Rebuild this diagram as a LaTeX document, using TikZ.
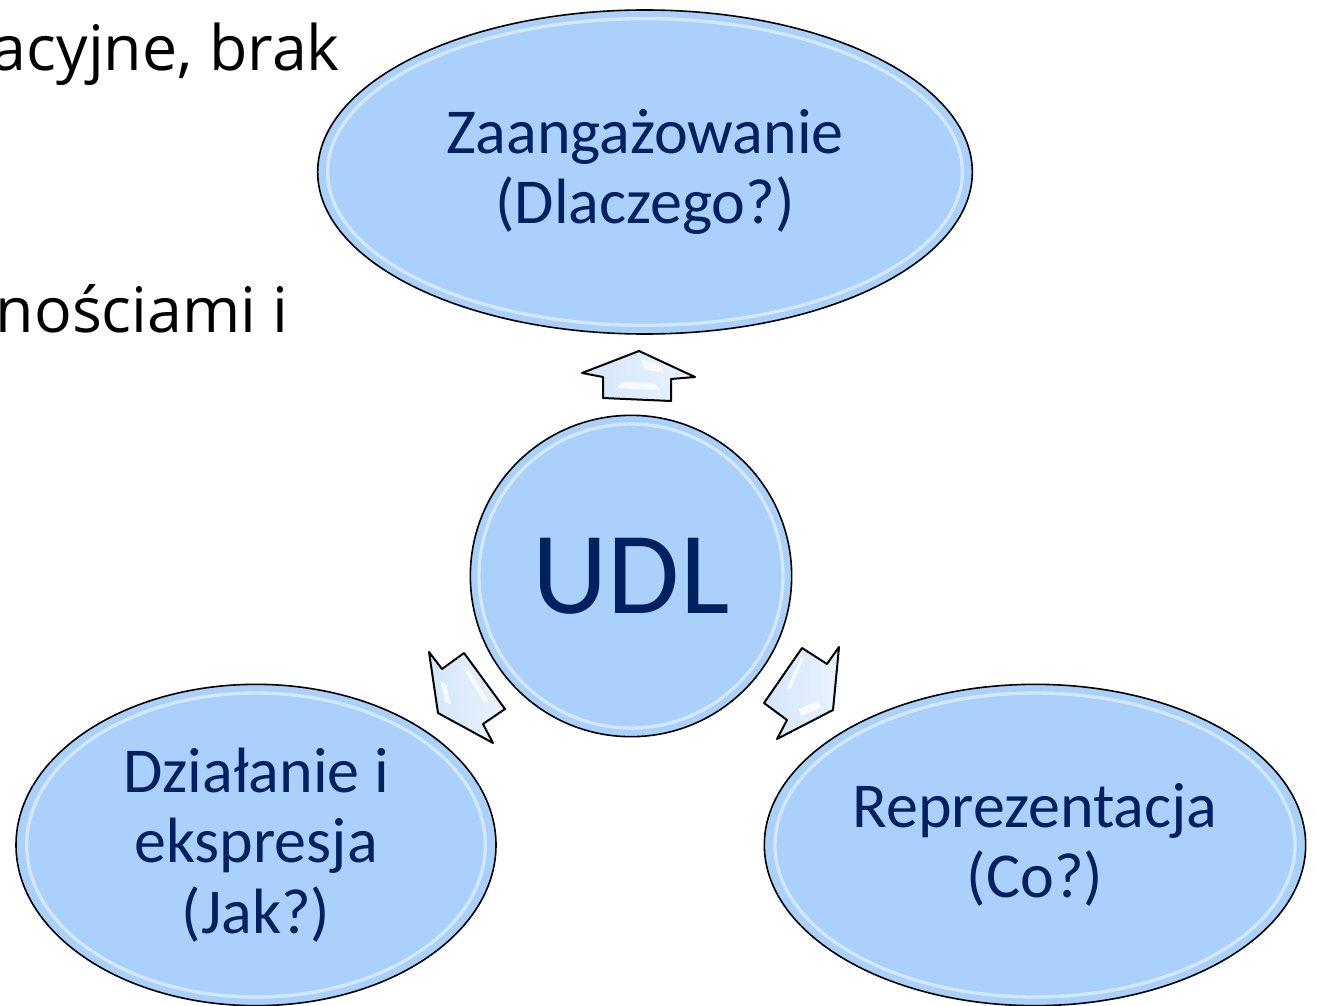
\documentclass[tikz,border=0pt]{standalone}
\usepackage{fontspec}
\setmainfont{Carlito}
\newfontfamily\bgfont{Open Sans}
\usetikzlibrary{shapes.geometric}
\definecolor{bubblefill}{HTML}{A9D1FB}
\definecolor{navy}{HTML}{002060}
\definecolor{arrowfill}{HTML}{D3E6FC}
\tikzset{
  bubble/.style={ellipse, draw=black, line width=1.2pt, fill=bubblefill, text=navy, align=center, inner sep=0pt,
    font=\fontsize{48}{53}\selectfont},
  gloss/.style={draw=white, opacity=0.5, line width=2.5pt},
  blockarrow/.style={draw=black, line width=1.5pt, line join=round, left color=arrowfill, right color=white!50!arrowfill},
  glint/.style={fill=white, opacity=0.8},
  bgtext/.style={font=\bgfont\fontsize{47}{56}\selectfont, text=black, inner sep=0pt}
}
\begin{document}
\begin{tikzpicture}[x=0.75pt,y=-0.75pt]
\useasboundingbox (0,0) rectangle (1317,1006);
% background text
\node[bgtext, anchor=base east] (t1) at (340,70) {acyjne, brak};
\node[bgtext, anchor=base east] (t2) at (289,332) {nościami i};
% bubbles
\node[bubble, minimum width=491pt, minimum height=243pt] (eng) at (645,172) {Zaangażowanie\\(Dlaczego?)};
\node[bubble, circle, minimum size=241pt, font=\fontsize{88}{100}\selectfont] (udl) at (631,576) {UDL};
\node[bubble, minimum width=360pt, minimum height=241pt] (act) at (256,845) {Działanie i\\ekspresja\\(Jak?)};
\node[bubble, minimum width=406pt, minimum height=241pt] (rep) at (1035,845) {Reprezentacja\\(Co?)};
% gloss rings
\draw[gloss] (eng.center) ellipse [x radius=238pt, y radius=115pt];
\draw[gloss] (udl.center) circle [radius=114pt];
\draw[gloss] (act.center) ellipse [x radius=172pt, y radius=114pt];
\draw[gloss] (rep.center) ellipse [x radius=195pt, y radius=114pt];
% block arrows
\draw[blockarrow] (582,373) -- (603,377) -- (603,398) -- (671,401) -- (671,379) -- (695,377) -- (639,351) -- cycle;
\draw[blockarrow] (429,652) -- (442,669) -- (464,653) -- (505,709) -- (483,724) -- (493,743) -- (438,713) -- cycle;
\draw[blockarrow] (802,648) -- (827,664) -- (839,647) -- (833,710) -- (777,739) -- (787,720) -- (764,703) -- cycle;
% glints
\fill[glint] (640,359) -- (660,364) -- (664,373) -- (644,369) -- cycle;
\fill[glint] (617,388) -- (660,390) -- (654,383) -- (622,382) -- cycle;
\fill[glint] (440,681) -- (446,684) -- (451,704) -- (445,702) -- cycle;
\fill[glint] (463,668) -- (467,667) -- (488,700) -- (484,702) -- cycle;
\fill[glint] (801,658) -- (805,656) -- (791,688) -- (786,690) -- cycle;
\fill[glint] (799,709) -- (818,701) -- (821,708) -- (801,716) -- cycle;
\end{tikzpicture}
\end{document}
